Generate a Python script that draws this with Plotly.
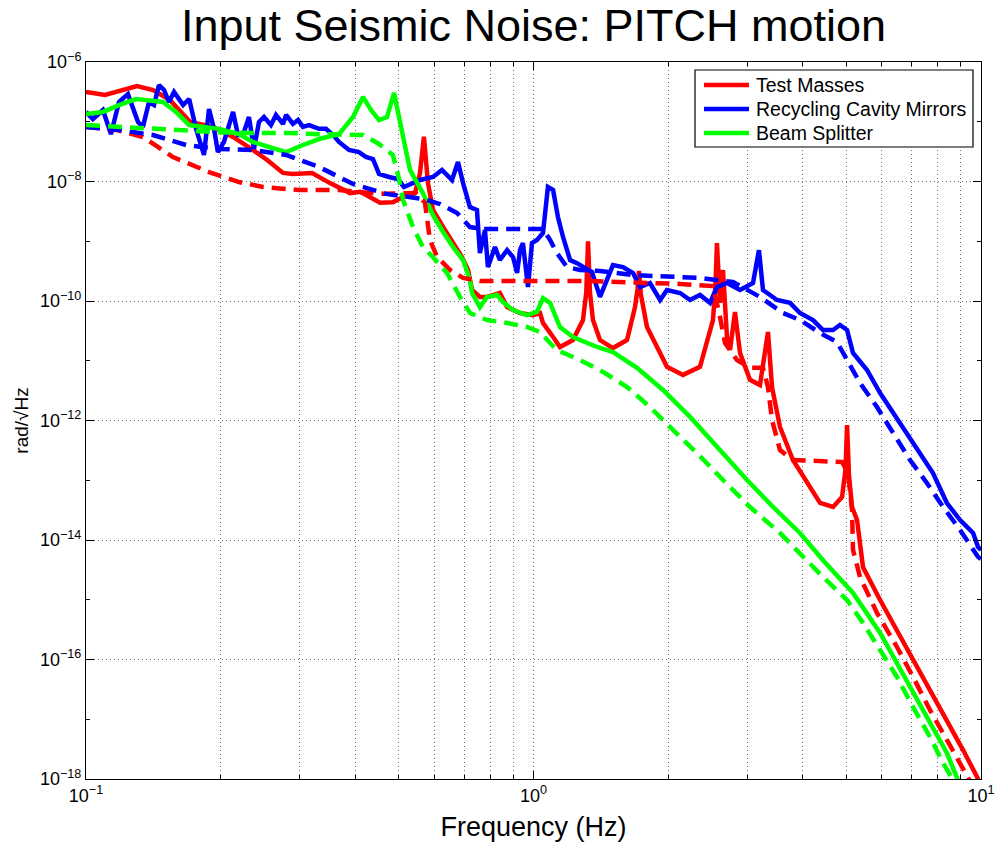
import plotly.graph_objects as go

# ---- Test Masses (red) ----
tm_f = [0.1, 0.1103, 0.130, 0.1413, 0.154, 0.171, 0.192, 0.213, 0.236, 0.254, 0.2756, 0.290,
        0.320, 0.351, 0.389, 0.410, 0.454, 0.485, 0.511, 0.5435, 0.5577, 0.569, 0.581, 0.596,
        0.628, 0.661, 0.692, 0.714, 0.729, 0.759, 0.787, 0.841, 0.873, 0.933, 0.997, 1.034,
        1.05, 1.106, 1.146, 1.225, 1.290, 1.312, 1.324, 1.337, 1.358, 1.408, 1.505, 1.618,
        1.686, 1.708, 1.721, 1.737, 1.793, 1.918, 1.987, 2.158, 2.355, 2.518, 2.550, 2.570,
        2.611, 2.651, 2.706, 2.749, 2.82, 2.894, 3.046, 3.207, 3.29, 3.342, 3.412, 3.555,
        3.80, 4.086, 4.368, 4.67, 4.892, 4.98, 5.02, 5.07, 5.15, 5.284, 5.45, 5.95, 6.49,
        7.05, 7.69, 8.39, 9.12, 9.80, 10.0]
tm_v = [3.15e-7, 2.8e-7, 3.96e-7, 3.4e-7, 2.31e-7, 9.9e-8, 8.2e-8, 5.56e-8, 3.37e-8, 2.29e-8,
        1.39e-8, 1.34e-8, 1.39e-8, 9.4e-9, 6.4e-9, 6.7e-9, 4.4e-9, 4.5e-9, 5.5e-9, 6.4e-9,
        1.39e-8, 5.6e-8, 9.4e-9, 3.33e-9, 1.73e-9, 9.3e-10, 5.45e-10, 3.3e-10, 1.53e-10,
        1.17e-10, 1.17e-10, 1.36e-10, 7.9e-11, 6.3e-11, 5.8e-11, 6.3e-11, 4.3e-11, 2.5e-11,
        1.7e-11, 2.22e-11, 4.8e-11, 1.4e-10, 1.0e-9, 1.4e-10, 4.8e-11, 2.22e-11, 1.63e-11,
        2.22e-11, 7.9e-11, 1.6e-10, 3.18e-10, 1.3e-10, 3.67e-11, 1.35e-11, 7.9e-12, 5.8e-12,
        7.9e-12, 4.8e-11, 1.8e-10, 9.3e-10, 9.3e-11, 3.3e-10, 2.5e-11, 1.51e-11, 6.55e-11,
        1.35e-11, 4.8e-12, 3.93e-12, 1.35e-11, 3.03e-11, 3.6e-12, 7.8e-13, 2.18e-13, 9.0e-14,
        4.17e-14, 3.57e-14, 5.25e-14, 1.5e-13, 8.4e-13, 1.2e-13, 3.57e-14, 2.16e-14, 3.5e-15,
        9.9e-16, 3.1e-16, 9.8e-17, 3.1e-17, 9.7e-18, 3.05e-18, 1.08e-18, 7.9e-19]

tm_in_f = [0.1, 0.1167, 0.134, 0.1564, 0.1883, 0.2197, 0.2486, 0.299, 0.3676, 0.4516, 0.546,
           0.572, 0.587, 0.609, 0.651, 0.696, 0.759, 1.317, 2.126, 2.518, 2.611, 2.679, 2.849,
           3.046, 3.257, 3.342, 3.412, 3.555, 3.80, 4.892, 5.045, 5.15, 5.176, 5.366, 5.856,
           6.49, 7.05, 7.69, 8.39, 9.12, 9.70]
tm_in_v = [8.2e-8, 7.3e-8, 5.56e-8, 2.57e-8, 1.44e-8, 9.8e-9, 8.1e-9, 7.2e-9, 7.2e-9, 6.2e-9,
           6.4e-9, 4.4e-9, 1.05e-9, 5.45e-10, 3.3e-10, 2.43e-10, 2.16e-10, 2.16e-10, 1.93e-10,
           1.78e-10, 5.4e-11, 1.98e-11, 1.03e-11, 7.6e-12, 7.6e-12, 3.6e-12, 1.02e-12, 3.2e-13,
           2.18e-13, 2.02e-13, 1.32e-13, 3.2e-14, 6.8e-15, 2.4e-15, 6.0e-16, 1.62e-16, 5.1e-17,
           1.43e-17, 4.5e-18, 1.42e-18, 6.5e-19]

# ---- Recycling Cavity Mirrors (blue) ----
rc_f = [0.1, 0.1036, 0.1091, 0.1137, 0.1185, 0.1241, 0.1307, 0.134, 0.1383, 0.1419, 0.1456,
        0.1494, 0.1533, 0.1573, 0.1648, 0.170, 0.1762, 0.1835, 0.1883, 0.1932, 0.1972, 0.2034,
        0.2131, 0.2186, 0.2243, 0.2313, 0.2373, 0.2435, 0.2499, 0.2590, 0.2658, 0.2756, 0.280,
        0.290, 0.2977, 0.3054, 0.3150, 0.3317, 0.3438, 0.3565, 0.3676, 0.387, 0.4074, 0.4223,
        0.4378, 0.4516, 0.4754, 0.4979, 0.5135, 0.532, 0.5577, 0.596, 0.6244, 0.6574, 0.678,
        0.696, 0.721, 0.7476, 0.759, 0.779, 0.791, 0.820, 0.841, 0.873, 0.900, 0.919, 0.933,
        0.947, 0.972, 0.992, 1.018, 1.05, 1.077, 1.106, 1.134, 1.164, 1.207, 1.251, 1.303,
        1.351, 1.408, 1.460, 1.505, 1.585, 1.669, 1.730, 1.821, 1.918, 1.987, 2.126, 2.238,
        2.355, 2.48, 2.57, 2.706, 2.894, 3.094, 3.19, 3.257, 3.50, 3.743, 3.939, 4.213, 4.436,
        4.67, 4.84, 5.02, 5.176, 5.563, 5.95, 6.36, 6.83, 7.31, 7.81, 8.39, 8.98, 9.60, 9.85,
        10.0]
rc_v = [1.46e-7, 1.11e-7, 1.57e-7, 6.2e-8, 2.14e-7, 2.9e-7, 9.9e-8, 8.2e-8, 2.14e-7, 1.9e-7,
        4.1e-7, 3.4e-7, 2.14e-7, 3.15e-7, 1.9e-7, 2.4e-7, 7.6e-8, 2.78e-8, 1.63e-7, 7.6e-8,
        3.1e-8, 4.6e-8, 1.46e-7, 6.0e-8, 6.0e-8, 1.2e-7, 3.5e-8, 9.9e-8, 1.2e-7, 8.8e-8,
        1.3e-7, 9.2e-8, 1.3e-7, 9.2e-8, 1.07e-7, 8.2e-8, 8.8e-8, 7.6e-8, 7.6e-8, 6.0e-8,
        4.6e-8, 3.37e-8, 3.1e-8, 2.57e-8, 2.38e-8, 1.34e-8, 1.19e-8, 1.1e-8, 8.1e-9, 9.1e-9,
        1.06e-8, 1.19e-8, 1.56e-8, 1.06e-8, 2.12e-8, 9.4e-9, 3.74e-9, 3.33e-9, 6.35e-10,
        1.54e-9, 3.7e-10, 8.0e-10, 4.85e-10, 7.1e-10, 5.45e-10, 2.94e-10, 7.1e-10, 9.3e-10,
        1.71e-10, 9.3e-10, 1.05e-9, 1.37e-9, 8.1e-9, 7.2e-9, 2.55e-9, 1.18e-9, 4.85e-10,
        4.3e-10, 3.56e-10, 3.05e-10, 1.17e-10, 2.25e-10, 4.0e-10, 3.7e-10, 2.94e-10, 1.71e-10,
        2.0e-10, 1.04e-10, 1.53e-10, 1.36e-10, 1.04e-10, 1.26e-10, 9.3e-11, 1.71e-10, 2.0e-10,
        1.53e-10, 2.0e-10, 7.1e-10, 1.53e-10, 1.04e-10, 9.3e-11, 6.3e-11, 4.8e-11, 3.27e-11,
        3.27e-11, 3.97e-11, 3.27e-11, 1.35e-11, 7.0e-12, 2.88e-12, 1.34e-12, 6.2e-13, 2.86e-13,
        1.32e-13, 4.16e-14, 2.16e-14, 1.31e-14, 7.6e-15, 6.8e-15]

rc_in_f = [0.1, 0.1185, 0.1411, 0.1673, 0.1982, 0.236, 0.280, 0.3317, 0.395, 0.468, 0.546,
           0.578, 0.618, 0.675, 0.721, 0.771, 1.05, 1.089, 1.128, 1.188, 1.270, 1.408, 1.669,
           1.987, 2.355, 2.791, 3.207, 3.610, 3.939, 4.368, 4.766, 5.02, 5.366, 5.856, 6.36,
           6.94, 7.57, 8.23, 8.98, 9.85, 10.0]
rc_in_v = [8.2e-8, 7.3e-8, 6.0e-8, 4.08e-8, 3.5e-8, 3.37e-8, 2.78e-8, 1.75e-8, 9.1e-9, 6.2e-9,
           5.3e-9, 4.9e-9, 4.2e-9, 2.97e-9, 1.73e-9, 1.6e-9, 1.6e-9, 1.05e-9, 6.35e-10, 3.7e-10,
           3.3e-10, 3.18e-10, 2.72e-10, 2.52e-10, 2.43e-10, 2.08e-10, 1.17e-10, 6.3e-11, 4.8e-11,
           2.92e-11, 2.06e-11, 1.03e-11, 4.25e-12, 1.68e-12, 6.2e-13, 2.18e-13, 9.0e-14,
           3.57e-14, 1.47e-14, 5.2e-15, 4.8e-15]

# ---- Beam Splitter (green) ----
bs_f = [0.1, 0.1091, 0.1185, 0.1293, 0.1486, 0.1589, 0.170, 0.1982, 0.2197, 0.236, 0.2564,
        0.280, 0.3054, 0.3317, 0.3676, 0.395, 0.416, 0.4334, 0.4516, 0.4706, 0.4879, 0.503,
        0.5297, 0.566, 0.596, 0.628, 0.661, 0.696, 0.721, 0.729, 0.759, 0.787, 0.829, 0.855,
        0.900, 0.967, 1.018, 1.05, 1.089, 1.146, 1.225, 1.387, 1.505, 1.703, 1.947, 2.238,
        2.611, 3.0, 3.43, 3.939, 4.436, 5.02, 5.176, 5.95, 6.49, 7.05, 7.69, 8.39, 8.88, 9.21]
bs_v = [1.35e-7, 1.46e-7, 1.9e-7, 2.4e-7, 2.14e-7, 1.46e-7, 8.8e-8, 7.6e-8, 6.2e-8, 4.6e-8,
        3.78e-8, 3.1e-8, 4.08e-8, 5.14e-8, 6.2e-8, 1.2e-7, 2.6e-7, 1.57e-7, 1.07e-7, 1.2e-7,
        3.03e-7, 9.5e-8, 1.56e-8, 6.4e-9, 2.75e-9, 1.43e-9, 8.0e-10, 4.85e-10, 2.25e-10,
        1.36e-10, 7.9e-11, 1.17e-10, 1.26e-10, 9.6e-11, 7.06e-11, 5.8e-11, 6.55e-11, 1.12e-10,
        9.3e-11, 3.67e-11, 2.5e-11, 1.7e-11, 1.4e-11, 7.6e-12, 3.24e-12, 1.15e-12, 3.2e-13,
        1.01e-13, 3.57e-14, 1.31e-14, 4.6e-15, 1.63e-15, 1.3e-15, 2.78e-16, 8.7e-17, 2.75e-17,
        8.6e-18, 2.72e-18, 9.6e-19, 5.4e-19]

bs_in_f = [0.1, 0.1185, 0.1411, 0.1673, 0.1982, 0.236, 0.280, 0.3317, 0.387, 0.416, 0.4516,
           0.485, 0.5007, 0.511, 0.538, 0.566, 0.596, 0.641, 0.685, 0.721, 0.787, 0.873, 0.967,
           1.034, 1.089, 1.128, 1.270, 1.430, 1.618, 1.821, 2.018, 2.319, 2.651, 3.046, 3.555,
           4.0, 4.436, 5.02, 5.45, 5.95, 6.49, 7.05, 7.69, 8.23, 8.66, 8.98]
bs_in_v = [8.8e-8, 8.2e-8, 7.6e-8, 7.3e-8, 6.7e-8, 6.5e-8, 6.5e-8, 6.2e-8, 6.2e-8, 6.0e-8,
           4.25e-8, 2.78e-8, 1.1e-8, 4.9e-9, 1.73e-9, 8.0e-10, 5.45e-10, 2.94e-10, 1.17e-10,
           6.3e-11, 4.8e-11, 4.3e-11, 3.67e-11, 3.03e-11, 1.98e-11, 1.51e-11, 1.03e-11, 6.5e-12,
           3.64e-12, 1.68e-12, 7.8e-13, 2.86e-13, 1.01e-13, 3.57e-14, 1.31e-14, 5.2e-15, 2.4e-15,
           9.9e-16, 4.08e-16, 1.44e-16, 5.1e-17, 1.6e-17, 5.05e-18, 1.85e-18, 9.6e-19, 5.4e-19]

series_names = ["Test Masses", "Recycling Cavity Mirrors", "Beam Splitter"]
series_colors = ["#ff0000", "#0000ff", "#00ff00"]

# axis ticks
x_major = [0.1, 1, 10]
x_major_text = ["10<sup>\u22121</sup>", "10<sup>0</sup>", "10<sup>1</sup>"]
x_minor = [0.2, 0.3, 0.4, 0.5, 0.6, 0.7, 0.8, 0.9, 2, 3, 4, 5, 6, 7, 8, 9]
y_exps = [-6, -8, -10, -12, -14, -16, -18]
y_major = [10.0 ** e for e in y_exps]
y_major_text = ["10<sup>\u2212%d</sup>" % (-e) for e in y_exps]
y_minor = [10.0 ** e for e in (-7, -9, -11, -13, -15, -17)]

LW = 4.5

fig = go.Figure()

solid = [(tm_f, tm_v), (rc_f, rc_v), (bs_f, bs_v)]
dashed = [(tm_in_f, tm_in_v), (rc_in_f, rc_in_v), (bs_in_f, bs_in_v)]

for (fx, vy), name, col in zip(solid, series_names, series_colors):
    fig.add_trace(go.Scatter(x=fx, y=vy, mode="lines", name=name,
                             line=dict(color=col, width=LW)))
for (fx, vy), name, col in zip(dashed, series_names, series_colors):
    fig.add_trace(go.Scatter(x=fx, y=vy, mode="lines", name=name + " (input)",
                             line=dict(color=col, width=LW, dash="14px,8px")))

# ---- boxed legend drawn in the upper right corner of the axes ----
plot_l, plot_r, plot_t, plot_b = 86, 981, 62, 779


def px_x(p):
    return (p - plot_l) / (plot_r - plot_l)


def px_y(p):
    return (plot_b - p) / (plot_b - plot_t)


shapes = [dict(type="rect", xref="paper", yref="paper",
               x0=px_x(695), x1=px_x(973), y0=px_y(147), y1=px_y(70),
               line=dict(color="black", width=1.2), fillcolor="white", layer="above")]
annotations = []
for i, (name, col) in enumerate(zip(series_names, series_colors)):
    row_y = 85 + 24 * i
    shapes.append(dict(type="line", xref="paper", yref="paper",
                       x0=px_x(704), x1=px_x(749), y0=px_y(row_y), y1=px_y(row_y),
                       line=dict(color=col, width=LW), layer="above"))
    annotations.append(dict(text=name, xref="paper", yref="paper",
                            x=px_x(754), y=px_y(row_y), xanchor="left", yanchor="middle",
                            showarrow=False, font=dict(size=19.5, color="black")))

grid_color = "#6e6e6e"
grid_dash = "1px,3px"

fig.update_layout(
    width=998, height=843,
    margin=dict(l=plot_l, r=998 - plot_r, t=plot_t, b=843 - plot_b),
    paper_bgcolor="white", plot_bgcolor="white",
    font=dict(family="Liberation Sans, Arial, sans-serif", color="black"),
    title=dict(text="Input Seismic Noise: PITCH motion", x=0.5, xref="paper",
               xanchor="center", y=0.970, yanchor="middle",
               font=dict(size=45, color="black")),
    showlegend=False,
    shapes=shapes,
    annotations=annotations,
)

fig.update_xaxes(
    type="log", range=[-1, 1], automargin=False,
    tickmode="array", tickvals=x_major, ticktext=x_major_text,
    tickfont=dict(size=18),
    ticks="inside", ticklen=8, tickcolor="black",
    showline=True, linecolor="black", linewidth=1, mirror="allticks",
    showgrid=True, gridcolor=grid_color, griddash=grid_dash, gridwidth=1,
    zeroline=False,
    minor=dict(tickmode="array", tickvals=x_minor, ticks="inside", ticklen=4,
               tickcolor="black", showgrid=True, gridcolor=grid_color,
               griddash=grid_dash, gridwidth=1),
    title=dict(text="Frequency (Hz)", font=dict(size=27), standoff=12),
)

fig.update_yaxes(
    type="log", range=[-18, -6], automargin=False,
    tickmode="array", tickvals=y_major, ticktext=y_major_text,
    tickfont=dict(size=18),
    ticks="inside", ticklen=8, tickcolor="black",
    showline=True, linecolor="black", linewidth=1, mirror="allticks",
    showgrid=True, gridcolor=grid_color, griddash=grid_dash, gridwidth=1,
    zeroline=False,
    minor=dict(tickmode="array", tickvals=y_minor, ticks="inside", ticklen=4,
               tickcolor="black", showgrid=False),
    title=dict(text="rad/\u221aHz", font=dict(size=19), standoff=6),
)

fig.write_html("out.html")
